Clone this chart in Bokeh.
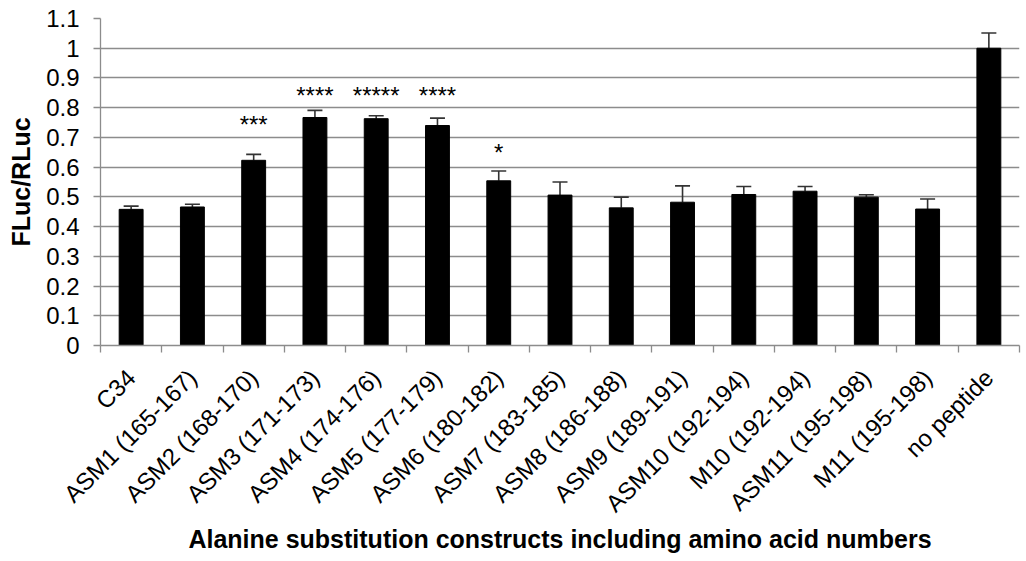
from bokeh.plotting import figure
from bokeh.models import Range1d, FixedTicker, NumeralTickFormatter, Whisker, TeeHead, ColumnDataSource
from bokeh.core.properties import value
from bokeh.embed import file_html
from bokeh.resources import INLINE
import math

categories = ["C34", "ASM1 (165-167)", "ASM2 (168-170)", "ASM3 (171-173)", "ASM4 (174-176)",
              "ASM5 (177-179)", "ASM6 (180-182)", "ASM7 (183-185)", "ASM8 (186-188)",
              "ASM9 (189-191)", "ASM10 (192-194)", "M10 (192-194)", "ASM11 (195-198)",
              "M11 (195-198)", "no peptide"]
values = [0.458, 0.466, 0.623, 0.767, 0.763, 0.740, 0.554, 0.506, 0.463, 0.482,
          0.508, 0.519, 0.499, 0.459, 1.000]
errors = [0.011, 0.009, 0.020, 0.024, 0.010, 0.025, 0.033, 0.044, 0.036, 0.055,
          0.027, 0.016, 0.008, 0.034, 0.051]
stars = ["", "", "***", "****", "*****", "****", "*", "", "", "", "", "", "", "", ""]
star_y = [0, 0, 0.745, 0.840, 0.840, 0.840, 0.648, 0, 0, 0, 0, 0, 0, 0, 0]
y_ticks = [0, 0.1, 0.2, 0.3, 0.4, 0.5, 0.6, 0.7, 0.8, 0.9, 1.0, 1.1]

FONT = "Liberation Sans"
GRID = "#8c8c8c"

xs = [i + 0.5 for i in range(len(categories))]
src = ColumnDataSource(dict(x=xs, top=values, upper=[v + e for v, e in zip(values, errors)]))

p = figure(width=1026, height=561, output_backend="svg", toolbar_location=None,
           x_range=Range1d(0, len(categories)), y_range=Range1d(0, 1.1),
           min_border_left=100, min_border_top=18, min_border_right=7, min_border_bottom=216)
p.outline_line_color = None
p.background_fill_color = "white"

p.vbar(x="x", top="top", width=0.39, source=src, fill_color="black", line_color="black")

w = Whisker(base="x", lower="top", upper="upper", source=src,
            line_color="#333333", line_width=1.6,
            upper_head=TeeHead(size=15, line_color="#333333", line_width=1.6),
            lower_head=None)
p.add_layout(w)

sx = [x for x, s in zip(xs, stars) if s]
sy = [y for y, s in zip(star_y, stars) if s]
st = [s for s in stars if s]
p.text(x=sx, y=sy, text=st, text_align="center", text_baseline="alphabetic",
       text_font=value(FONT), text_font_size="24px", text_color="black")

# x axis
p.xaxis.ticker = FixedTicker(ticks=xs, minor_ticks=list(range(len(categories) + 1)))
p.xaxis.major_label_overrides = {x: c for x, c in zip(xs, categories)}
p.xaxis.major_tick_in = 0
p.xaxis.major_tick_out = 0
p.xaxis.minor_tick_in = 0
p.xaxis.minor_tick_out = 7
p.xaxis.minor_tick_line_color = GRID
p.xaxis.minor_tick_line_width = 1.3
p.xaxis.axis_line_color = GRID
p.xaxis.axis_line_width = 1.3
p.xaxis.major_label_orientation = math.pi / 4
p.xaxis.major_label_standoff = 21
p.xaxis.major_label_text_font = FONT
p.xaxis.major_label_text_font_size = "24px"
p.xaxis.major_label_text_color = "black"
p.xaxis.axis_label = "Alanine substitution constructs including amino acid numbers"
p.xaxis.axis_label_text_font = FONT
p.xaxis.axis_label_text_font_size = "25px"
p.xaxis.axis_label_text_font_style = "bold"
p.xaxis.axis_label_text_color = "black"
p.xaxis.axis_label_standoff = -5

# y axis
p.yaxis.ticker = FixedTicker(ticks=y_ticks, minor_ticks=[])
p.yaxis.formatter = NumeralTickFormatter(format="0.[0]")
p.yaxis.major_tick_in = 0
p.yaxis.major_tick_out = 7
p.yaxis.major_tick_line_color = GRID
p.yaxis.major_tick_line_width = 1.3
p.yaxis.axis_line_color = GRID
p.yaxis.axis_line_width = 1.3
p.yaxis.major_label_standoff = 14
p.yaxis.major_label_text_font = FONT
p.yaxis.major_label_text_font_size = "24px"
p.yaxis.major_label_text_color = "black"
p.yaxis.axis_label = "FLuc/RLuc"
p.yaxis.axis_label_text_font = FONT
p.yaxis.axis_label_text_font_size = "25px"
p.yaxis.axis_label_text_font_style = "bold"
p.yaxis.axis_label_text_color = "black"
p.yaxis.axis_label_standoff = 8

p.xgrid.grid_line_color = None
p.ygrid.ticker = FixedTicker(ticks=y_ticks)
p.ygrid.grid_line_color = GRID
p.ygrid.grid_line_width = 1.3

open("out.html", "w").write(file_html(p, INLINE))
